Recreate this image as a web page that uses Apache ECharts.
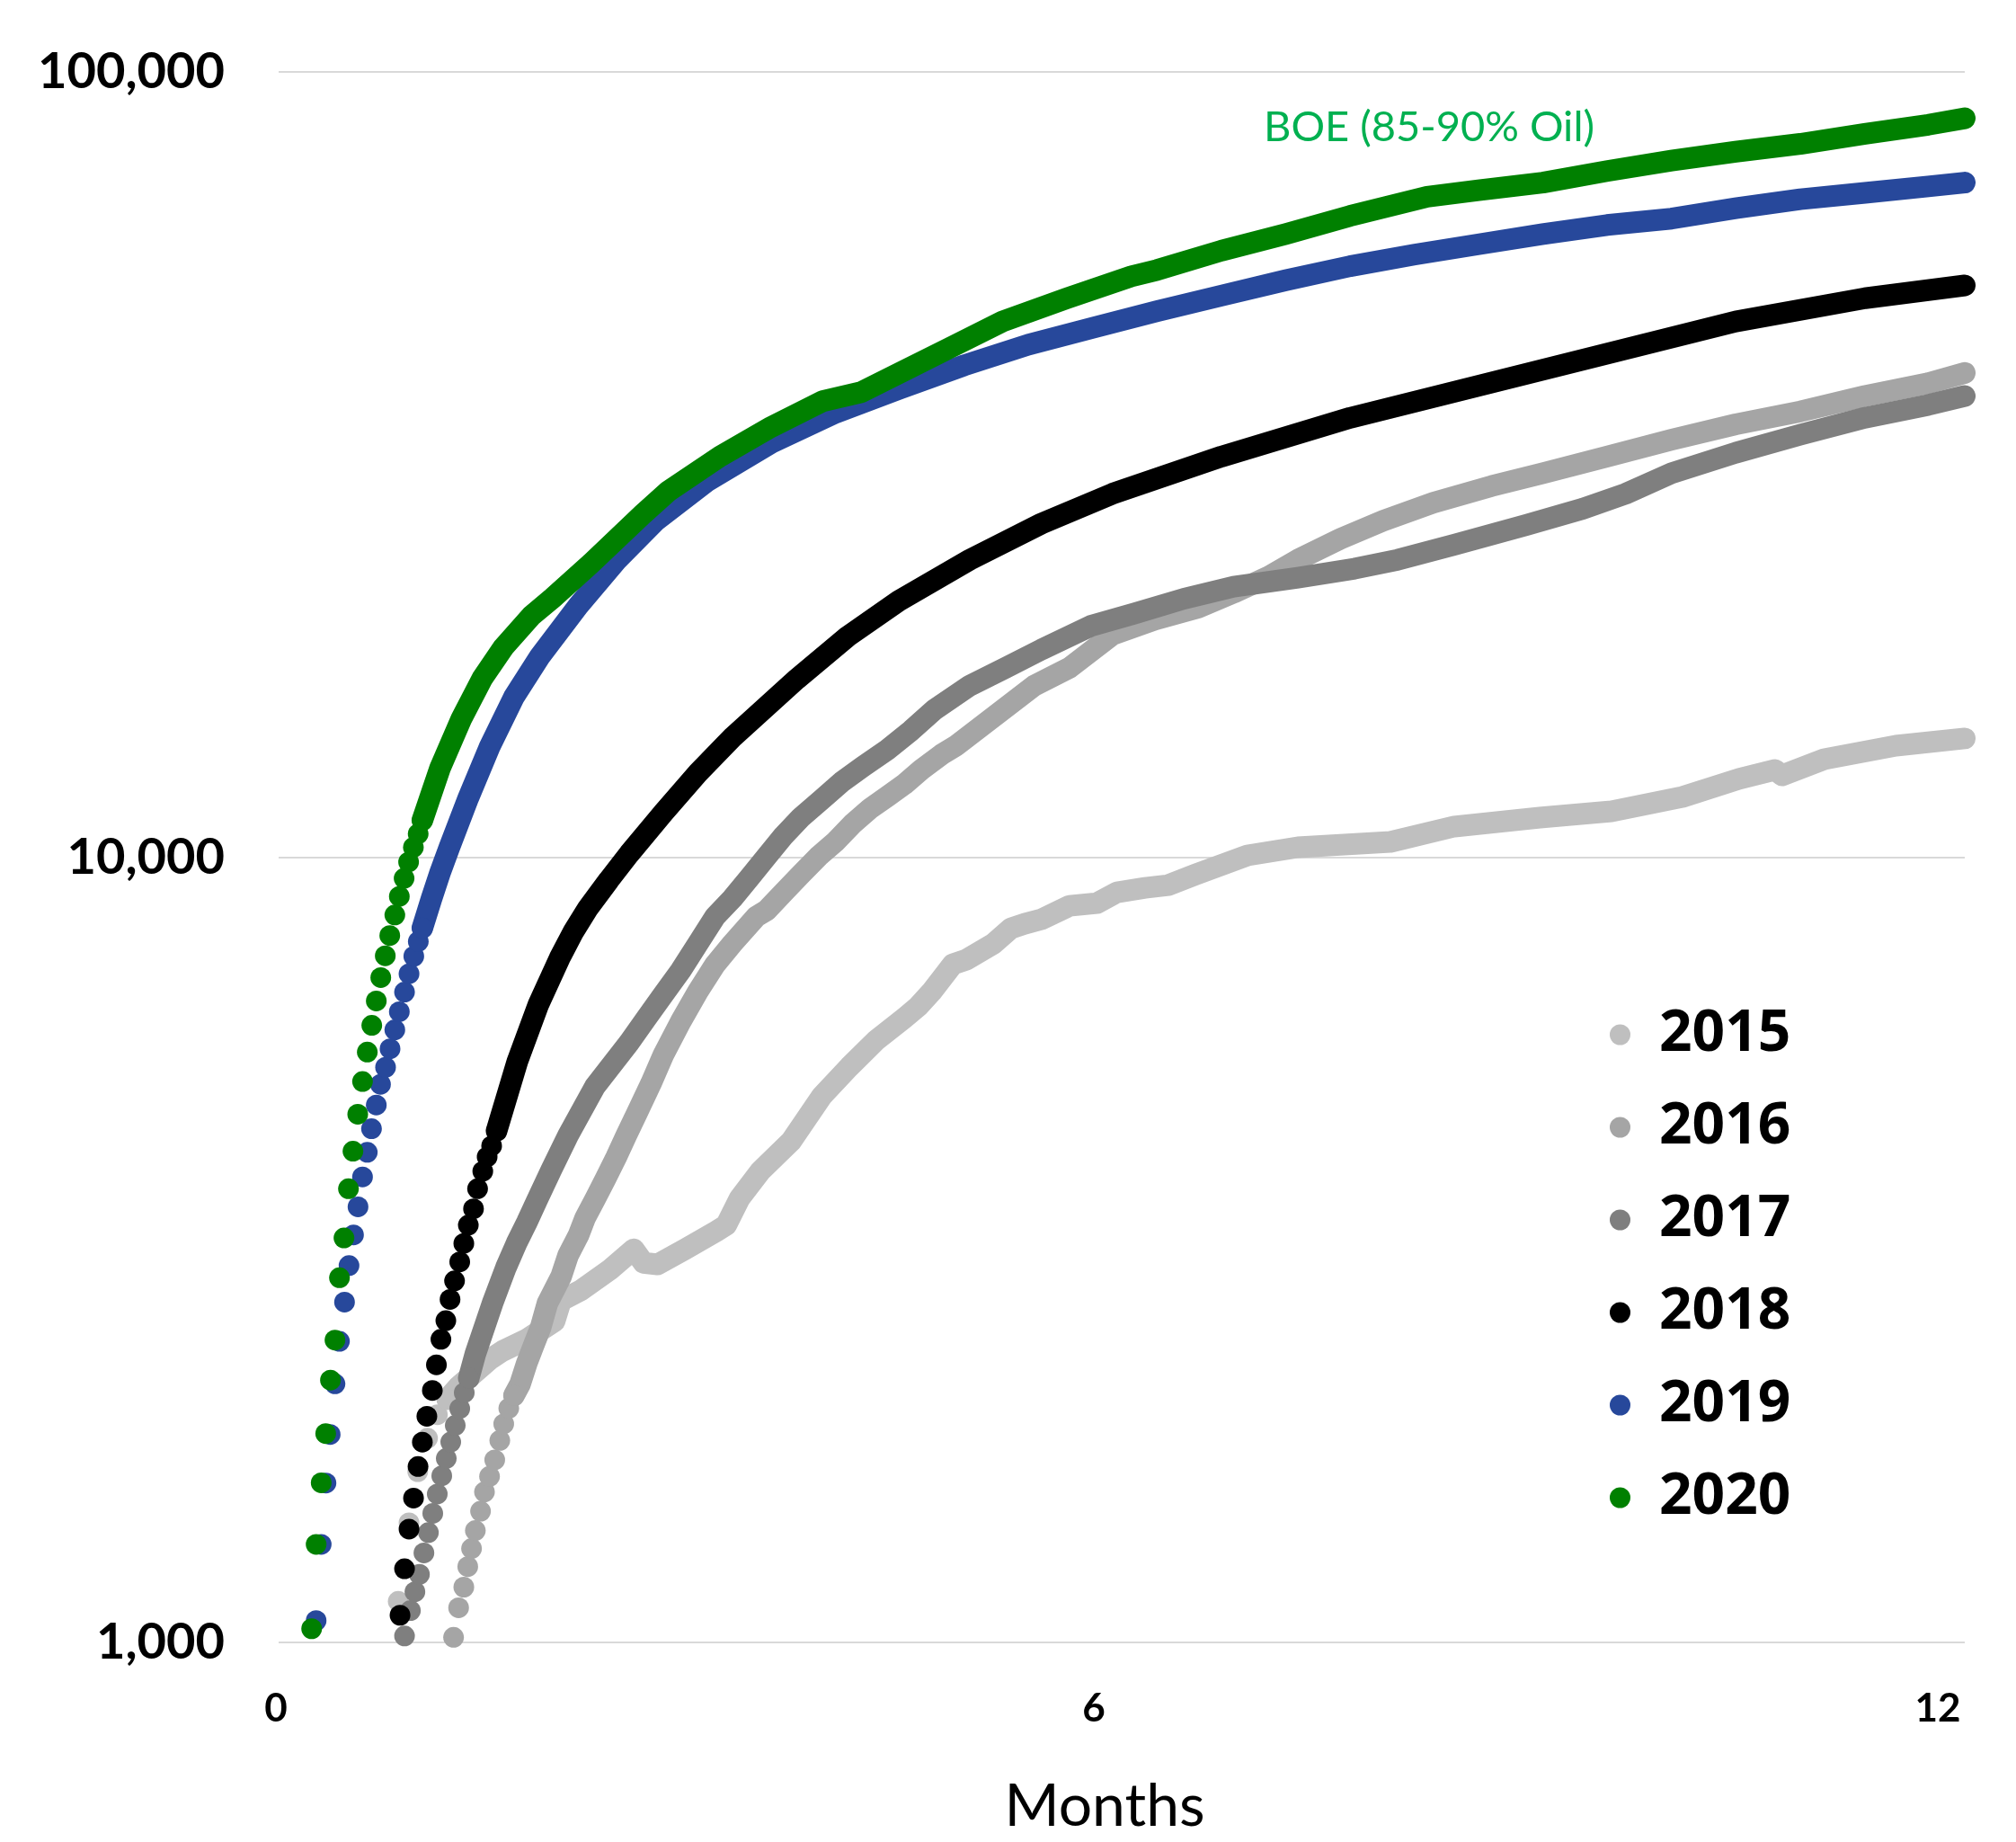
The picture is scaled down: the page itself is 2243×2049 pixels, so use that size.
<!DOCTYPE html>
<html>
<head>
<meta charset="utf-8">
<script src="https://cdn.jsdelivr.net/npm/echarts@6/dist/echarts.min.js"></script>
<style>
  html, body { margin: 0; padding: 0; background: #ffffff; }
  #chart { width: 2243px; height: 2049px; }
</style>
</head>
<body>
<div id="chart"></div>
<script>
// Average cumulative production per well (BOE) by months on production, one curve per vintage year.
// Each vintage: the first days are plotted as separate daily dots, the rest as a continuous band.

const years = ['2015', '2016', '2017', '2018', '2019', '2020'];
const colors = ['#BFBFBF', '#A5A5A5', '#7F7F7F', '#000000', '#27489B', '#008000'];

const xTicks = ['0', '6', '12'];
const yTicks = [1000, 10000, 100000];

// [months, cumulative BOE]
const dots2015 = [[0.851,1128],[0.928,1420],[0.99,1650],[1.06,1820],[1.13,1950],[1.2,2040]];
const band2015 = [[1.2,2040],[1.277,2115],[1.497,2289],[1.593,2350],[1.766,2432],[1.964,2565],[2.009,2724],[2.156,2812],[2.354,2980],[2.527,3167],[2.597,3044],[2.697,3030],[2.891,3167],[3.115,3339],[3.186,3401],[3.282,3680],[3.429,3984],[3.646,4345],[3.864,4958],[4.062,5409],[4.257,5855],[4.452,6237],[4.551,6454],[4.65,6750],[4.798,7306],[4.893,7403],[5.089,7762],[5.213,8119],[5.309,8226],[5.431,8337],[5.629,8671],[5.824,8740],[5.968,9022],[6.166,9141],[6.333,9214],[6.526,9504],[6.896,10053],[7.254,10294],[7.913,10459],[8.367,10939],[8.975,11229],[9.486,11440],[9.991,11930],[10.394,12580],[10.65,12915],[10.70,12712],[11.0,13331],[11.51,13867],[12.0,14165]];

const dots2016 = [[1.245,1015],[1.281,1107],[1.318,1176],[1.346,1249],[1.373,1317],[1.4,1388],[1.437,1469],[1.465,1555],[1.501,1627],[1.538,1708],[1.574,1808],[1.602,1898],[1.638,1987],[1.675,2063]];
const band2016 = [[1.675,2063],[1.718,2132],[1.766,2267],[1.815,2390],[1.865,2519],[1.913,2703],[2.011,2926],[2.06,3111],[2.134,3300],[2.181,3470],[2.256,3680],[2.328,3900],[2.403,4150],[2.476,4430],[2.55,4720],[2.65,5150],[2.738,5600],[2.862,6176],[2.984,6745],[3.107,7302],[3.229,7762],[3.40,8404],[3.473,8557],[3.595,9022],[3.716,9504],[3.841,10019],[3.963,10466],[4.086,11033],[4.209,11531],[4.331,11944],[4.452,12377],[4.574,12928],[4.718,13511],[4.821,13868],[5.073,15016],[5.377,16536],[5.629,17432],[5.935,19200],[6.237,20066],[6.544,20784],[6.797,21719],[7.049,22788],[7.254,23924],[7.558,25443],[7.861,26821],[8.217,28272],[8.632,29690],[8.998,30830],[9.455,32370],[9.913,34010],[10.37,35580],[10.83,36950],[11.29,38660],[11.74,40140],[12.0,41370]];

const dots2017 = [[0.896,1019],[0.938,1098],[0.97,1160],[1.002,1221],[1.034,1300],[1.066,1380],[1.097,1460],[1.129,1545],[1.161,1630],[1.193,1715],[1.225,1800],[1.257,1890],[1.289,1985],[1.321,2080],[1.353,2170]];
const band2017 = [[1.353,2170],[1.40,2330],[1.522,2703],[1.618,3003],[1.693,3224],[1.766,3426],[1.84,3660],[1.938,3990],[2.06,4423],[2.25,5100],[2.495,5807],[2.616,6232],[2.738,6687],[2.862,7173],[2.984,7762],[3.107,8404],[3.229,8858],[3.352,9419],[3.473,10019],[3.595,10654],[3.716,11229],[3.864,11838],[4.01,12480],[4.158,13040],[4.331,13700],[4.502,14500],[4.667,15409],[4.919,16537],[5.175,17431],[5.428,18381],[5.783,19710],[6.087,20420],[6.441,21330],[6.797,22100],[7.254,22690],[7.657,23300],[7.964,23920],[8.369,25000],[8.876,26480],[9.282,27780],[9.586,29030],[9.913,30830],[10.37,32740],[10.83,34520],[11.29,36270],[11.74,37660],[12.0,38660]];

const dots2018 = [[0.864,1083],[0.896,1241],[0.928,1394],[0.96,1527],[0.992,1675],[1.023,1799],[1.055,1941],[1.094,2094],[1.123,2257],[1.155,2432],[1.19,2569],[1.22,2734],[1.252,2887],[1.289,3052],[1.318,3222],[1.35,3399],[1.387,3566],[1.416,3782],[1.453,3981],[1.484,4152],[1.516,4289],[1.551,4482]];
const band2018 = [[1.551,4482],[1.7,5500],[1.85,6500],[2.0,7440],[2.1,8050],[2.2,8600],[2.35,9350],[2.495,10100],[2.738,11390],[2.984,12800],[3.229,14200],[3.689,16865],[4.05,19100],[4.414,21200],[4.919,23920],[5.428,26590],[5.935,29030],[6.709,32370],[7.625,36260],[8.54,39840],[9.455,43780],[10.37,48110],[11.29,51500],[12.0,53470]];

const dots2019 = [[0.267,1066],[0.303,1333],[0.337,1596],[0.367,1840],[0.401,2135],[0.433,2418],[0.469,2713],[0.501,3019],[0.533,3303],[0.565,3587],[0.597,3916],[0.631,4209],[0.661,4510],[0.695,4835],[0.725,5137],[0.761,5400],[0.793,5700],[0.827,6028],[0.859,6356],[0.896,6732],[0.928,7104],[0.962,7478],[0.994,7809],[1.023,8125]];
const band2019 = [[1.023,8125],[1.087,8843],[1.151,9579],[1.215,10292],[1.35,11900],[1.5,13800],[1.675,16000],[1.858,18000],[2.133,20900],[2.407,23900],[2.682,26800],[3.048,30100],[3.506,33700],[3.963,36800],[4.421,39500],[4.879,42300],[5.336,44950],[5.794,47210],[6.252,49580],[6.709,51880],[7.167,54280],[7.625,56570],[8.082,58520],[8.54,60320],[8.998,62160],[9.455,63830],[9.913,65040],[10.37,67040],[10.83,68840],[11.29,70150],[11.74,71480],[12.0,72290]];

const dots2020 = [[0.235,1041],[0.267,1333],[0.303,1597],[0.335,1845],[0.369,2158],[0.401,2427],[0.433,2914],[0.465,3274],[0.497,3782],[0.529,4222],[0.563,4706],[0.597,5180],[0.631,5647],[0.663,6107],[0.695,6560],[0.727,7025],[0.759,7489],[0.791,7946],[0.827,8441],[0.859,8913],[0.893,9398],[0.925,9857],[0.959,10292],[0.993,10708],[1.023,11143]];
const band2020 = [[1.023,11143],[1.15,13000],[1.3,15000],[1.45,16900],[1.6,18500],[1.8,20300],[1.95,21380],[2.224,23670],[2.59,27320],[2.773,29240],[3.14,32370],[3.506,35310],[3.872,38080],[4.146,39100],[4.421,41370],[4.787,44620],[5.153,48110],[5.611,51500],[6.069,54910],[6.252,55940],[6.709,59200],[7.167,62160],[7.625,65550],[8.174,69360],[8.54,70690],[8.998,72290],[9.455,74780],[9.913,77090],[10.37,79140],[10.83,80980],[11.29,83420],[11.74,85650],[12.0,87290]];

const dotSets = [dots2015, dots2016, dots2017, dots2018, dots2019, dots2020];
const bandSets = [band2015, band2016, band2017, band2018, band2019, band2020];

const MARK = 23;
const series = [];
years.forEach((yr, i) => {
  series.push({
    name: yr, type: 'scatter', data: dotSets[i],
    symbol: 'circle', symbolSize: MARK,
    itemStyle: { color: colors[i], opacity: 1 },
    z: 2 + i * 0.1
  });
  series.push({
    name: yr, type: 'line', data: bandSets[i],
    showSymbol: false, symbol: 'none', clip: false,
    itemStyle: { color: colors[i] },
    lineStyle: { color: colors[i], width: 24, cap: 'round', join: 'round' },
    z: 2 + i * 0.1
  });
});

// each month mark is nudged to where it is printed under the axis
const xLabelShift = { 0: 6, 6: 62, 12: 60 };
const xLabelRich = {};
Object.keys(xLabelShift).forEach(k => {
  xLabelRich['s' + k] = { fontFamily: 'Lato', fontWeight: 'bold', fontSize: 44, color: '#000', padding: [0, xLabelShift[k], 0, 0] };
});

const chart = echarts.init(document.getElementById('chart'), null, { renderer: 'canvas' });
chart.setOption({
  animation: false,
  backgroundColor: '#ffffff',
  grid: { left: 310, right: 57, top: 80, bottom: 222, containLabel: false },
  xAxis: {
    type: 'value', min: 0, max: 12, interval: 6,
    axisLine: { show: false }, axisTick: { show: false }, splitLine: { show: false },
    axisLabel: {
      margin: 52,
      formatter: v => '{s' + v + '|' + xTicks[v / 6] + '}',
      rich: xLabelRich
    },
    name: 'Months', nameLocation: 'middle', nameGap: 150,
    nameTextStyle: { fontFamily: 'Lato', fontSize: 66, color: '#000', padding: [0, 38, 0, 0] }
  },
  yAxis: {
    type: 'log', logBase: 10, min: yTicks[0], max: yTicks[yTicks.length - 1],
    axisLine: { show: false }, axisTick: { show: false },
    splitLine: { show: true, lineStyle: { color: '#D9D9D9', width: 2 } },
    axisLabel: {
      margin: 60,
      fontFamily: 'Lato', fontWeight: 'bold', fontSize: 56, color: '#000',
      formatter: v => Math.round(v).toLocaleString('en-US')
    }
  },
  legend: {
    orient: 'vertical', left: 1786, top: 1111,
    itemWidth: MARK, itemHeight: MARK, itemGap: 33, icon: 'circle',
    data: years,
    textStyle: { fontFamily: 'Open Sans', fontWeight: 'bold', fontSize: 64, lineHeight: 70, color: '#000', padding: [0, 0, 0, 27] }
  },
  graphic: [{
    type: 'text', left: 1406, top: 118,
    style: { text: 'BOE (85-90% Oil)', font: '47px Lato', fill: '#00B050' }
  }],
  series: series
});
</script>
</body>
</html>
